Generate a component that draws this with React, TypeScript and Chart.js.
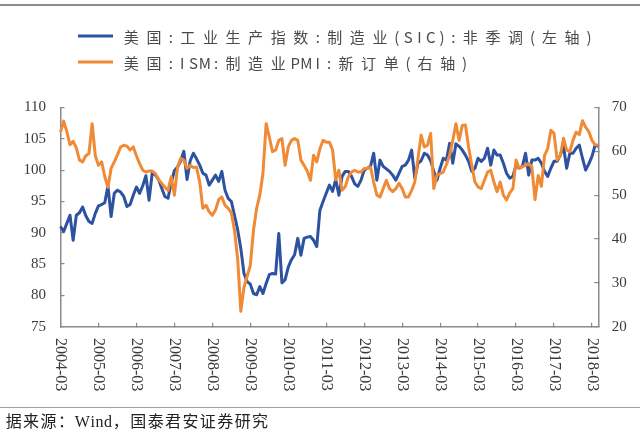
import React, { useEffect, useRef } from 'react';
import { Chart, registerables } from 'chart.js';

Chart.register(...registerables);

// Monthly categories 2004-03 .. 2018-05
const months: string[] = [];
for (let k = 0; k < 171; k++) {
  const m = 2 + k;
  const y = 2004 + Math.floor(m / 12);
  const mm = (m % 12) + 1;
  months.push(`${y}-${String(mm).padStart(2, '0')}`);
}

const tickLabels = [
  '2004-03', '2005-03', '2006-03', '2007-03', '2008-03', '2009-03', '2010-03', '2011-03',
  '2012-03', '2013-03', '2014-03', '2015-03', '2016-03', '2017-03', '2018-03',
];

const leftTicks = [75, 80, 85, 90, 95, 100, 105, 110];
const rightTicks = [20, 30, 40, 50, 60, 70];

const legendLabels = [
  '美国:工业生产指数:制造业(SIC):非季调(左轴)',
  '美国:ISM:制造业PMI:新订单(右轴)',
];
const sourceText = '据来源：Wind，国泰君安证券研究';

// 美国:工业生产指数:制造业(SIC):非季调 (left axis)
const ipValues = [
  91.0, 90.2, 91.5, 92.8, 88.8, 92.8, 93.2, 94.1, 92.7, 91.8, 91.5, 93.1,
  94.3, 94.5, 94.8, 97.5, 92.6, 96.3, 96.8, 96.5, 95.8, 94.2, 94.5, 96.0,
  97.3, 96.3, 97.5, 99.1, 95.2, 99.6, 99.2, 98.5, 97.1, 95.8, 95.5, 98.0,
  99.9, 100.5, 101.5, 103.0, 98.5, 101.5, 102.7, 101.8, 100.8, 99.5, 99.2, 97.6,
  98.4, 99.2, 98.2, 99.8, 96.8, 95.5, 95.0, 92.8, 90.5, 87.5, 83.5, 82.2,
  81.8, 80.3, 80.1, 81.4, 80.3, 81.9, 83.3, 83.5, 83.4, 89.9, 82.0, 82.5,
  84.5, 85.7, 86.5, 89.1, 86.4, 89.1, 89.3, 89.4, 88.8, 87.8, 93.6, 95.0,
  96.3, 97.6, 96.6, 98.5, 96.0, 99.0, 99.8, 99.8, 99.0, 97.8, 97.4, 98.4,
  100.0, 100.3, 100.6, 102.7, 98.4, 101.6, 100.6, 100.2, 99.8, 99.2, 98.4, 99.5,
  100.6, 100.8, 101.6, 103.2, 98.7, 101.1, 101.5, 102.7, 102.4, 101.5, 99.8, 98.4,
  100.3, 101.9, 101.6, 104.3, 101.1, 104.2, 103.8, 103.2, 102.4, 101.4, 99.8, 100.3,
  101.9, 101.4, 101.9, 103.5, 100.8, 103.2, 102.4, 102.4, 101.1, 99.5, 98.7, 99.0,
  100.8, 100.3, 100.6, 102.7, 99.2, 101.6, 101.6, 101.9, 101.1, 99.8, 99.0, 100.3,
  101.4, 101.4, 102.4, 103.8, 100.3, 102.7, 102.7, 103.5, 104.0, 101.9, 100.0, 101.0,
  102.2, 104.0, 103.8,
];

// 美国:ISM:制造业PMI:新订单 (right axis)
const ismValues = [
  64.4, 66.9, 64.5, 61.5, 62.3, 60.8, 58.0, 57.6, 59.0, 59.5, 66.3, 59.0,
  56.8, 57.6, 54.2, 51.8, 56.1, 57.6, 59.2, 61.0, 61.4, 61.2, 60.3, 61.0,
  59.0, 57.2, 55.7, 55.3, 55.5, 55.5, 54.9, 53.5, 52.7, 51.8, 51.1, 54.2,
  50.0, 56.4, 58.4, 58.0, 56.1, 56.8, 56.3, 56.4, 53.0, 47.0, 47.7, 46.2,
  45.4, 46.6, 49.0, 49.6, 47.7, 47.0, 46.0, 42.0, 35.5, 23.5, 29.0, 31.5,
  34.0, 42.0, 47.0, 50.0, 55.0, 66.3, 63.3, 59.9, 60.3, 62.5, 62.9, 56.8,
  61.0, 62.5, 62.9, 62.5, 58.0, 56.8, 55.5, 53.4, 59.1, 57.6, 60.6, 62.5,
  62.1, 62.1, 60.3, 53.5, 55.7, 51.1, 51.9, 54.2, 55.3, 55.7, 55.3, 55.3,
  56.1, 56.1, 56.4, 53.0, 50.0, 49.6, 51.5, 53.4, 51.5, 50.8, 51.5, 52.7,
  51.5, 49.6, 49.6, 51.1, 53.0, 58.4, 63.7, 61.0, 61.4, 64.1, 51.5, 54.6,
  54.9, 55.3, 57.0, 59.1, 62.5, 66.3, 62.5, 65.9, 66.0, 61.0, 56.8, 53.0,
  51.9, 51.5, 53.4, 55.3, 55.7, 53.0, 50.8, 53.0, 50.0, 48.9, 50.5, 51.5,
  58.0, 56.1, 56.5, 56.8, 57.2, 56.4, 49.0, 54.5, 52.0, 59.0, 60.6, 64.8,
  64.1, 58.0, 59.0, 63.0, 60.3, 60.0, 62.5, 64.4, 63.8, 67.0, 65.5, 64.5,
  62.5, 61.5, 61.4,
];

const BLUE = '#2D52A0';
const ORANGE = '#F08A34';
const AXIS = '#8a8a8a';
const TEXT = '#3a3a3a';

function drawCells(
  ctx: CanvasRenderingContext2D,
  text: string,
  x: number,
  y: number,
  cjkCell: number,
  asciiCell: number | null,
  asciiExtra = 0,
) {
  let cx = x;
  for (const ch of Array.from(text)) {
    const isAscii = ch.charCodeAt(0) < 128;
    const w = isAscii ? (asciiCell ?? ctx.measureText(ch).width + asciiExtra) : cjkCell;
    ctx.fillText(ch, cx + w / 2, y);
    cx += w;
  }
}

const decorPlugin = {
  id: 'decor',
  afterDraw(chart: any) {
    const ctx: CanvasRenderingContext2D = chart.ctx;
    const xs = chart.scales.x;
    ctx.save();
    // top rule
    ctx.strokeStyle = '#8c8c8c';
    ctx.lineWidth = 2;
    ctx.beginPath();
    ctx.moveTo(0, 5);
    ctx.lineTo(640, 5);
    ctx.stroke();
    // bottom rule
    ctx.strokeStyle = '#a0a0a0';
    ctx.lineWidth = 1;
    ctx.beginPath();
    ctx.moveTo(0, 407.5);
    ctx.lineTo(640, 407.5);
    ctx.stroke();

    // legend
    const colors = [BLUE, ORANGE];
    const rows = [36, 62];
    ctx.font = "15px 'Noto Sans CJK SC'";
    ctx.textAlign = 'center';
    ctx.textBaseline = 'middle';
    legendLabels.forEach((lab, k) => {
      ctx.strokeStyle = colors[k];
      ctx.lineWidth = 3;
      ctx.beginPath();
      ctx.moveTo(78, rows[k]);
      ctx.lineTo(113, rows[k]);
      ctx.stroke();
      ctx.fillStyle = '#4a4a4a';
      drawCells(ctx, lab, 120, rows[k] + 1, 22.6, 11.3);
    });

    // x tick labels, rotated clockwise
    ctx.fillStyle = TEXT;
    ctx.font = "16px 'Liberation Serif'";
    ctx.textAlign = 'left';
    ctx.textBaseline = 'middle';
    tickLabels.forEach((lab) => {
      const idx = months.indexOf(lab);
      if (idx < 0) return;
      const px = xs.getPixelForValue(idx);
      ctx.save();
      ctx.translate(px, 338);
      ctx.rotate(Math.PI / 2);
      ctx.fillText(lab, 0, 0);
      ctx.restore();
    });

    // source note
    ctx.fillStyle = '#222';
    ctx.font = "16px 'Liberation Serif', 'Noto Sans CJK SC'";
    ctx.textAlign = 'center';
    ctx.textBaseline = 'middle';
    drawCells(ctx, sourceText, 5, 423, 17.4, null, 0.5);
    ctx.restore();
  },
};

export default function App() {
  const ref = useRef<HTMLCanvasElement | null>(null);

  useEffect(() => {
    const canvas = ref.current;
    if (!canvas) return;
    const tickFont = { family: "'Liberation Serif'", size: 15 };
    const marchColor = (c: any) => {
      const lab = months[c.index];
      return lab && tickLabels.includes(lab) ? AXIS : 'rgba(0,0,0,0)';
    };
    const chart = new Chart(canvas, {
      type: 'line',
      data: {
        labels: months,
        datasets: [
          {
            label: legendLabels[0],
            data: ipValues,
            yAxisID: 'y',
            borderColor: BLUE,
            backgroundColor: BLUE,
            borderWidth: 3,
            pointRadius: 0,
            tension: 0,
            borderJoinStyle: 'round',
            order: 1,
          },
          {
            label: legendLabels[1],
            data: ismValues,
            yAxisID: 'y1',
            borderColor: ORANGE,
            backgroundColor: ORANGE,
            borderWidth: 3,
            pointRadius: 0,
            tension: 0,
            borderJoinStyle: 'round',
            order: 0,
          },
        ],
      },
      options: {
        responsive: false,
        animation: false,
        events: [],
        layout: { padding: { top: 107.5, left: 0, right: 0, bottom: 0 } },
        plugins: { legend: { display: false }, tooltip: { enabled: false } },
        scales: {
          x: {
            type: 'category',
            offset: false,
            ticks: { display: false, autoSkip: false },
            grid: {
              display: true,
              drawOnChartArea: false,
              drawTicks: true,
              tickLength: -4,
              color: marchColor,
              tickColor: marchColor,
              lineWidth: 1.2,
              tickWidth: 1.2,
            },
            border: { display: true, color: AXIS, width: 1.5 },
            afterFit: (s: any) => {
              s.height = 109.3;
            },
          },
          y: {
            position: 'left',
            min: 75,
            max: 110,
            afterBuildTicks: (s: any) => {
              s.ticks = leftTicks.map((v) => ({ value: v }));
            },
            ticks: { padding: 18.5, color: TEXT, font: tickFont },
            grid: {
              drawOnChartArea: false,
              drawTicks: true,
              tickLength: -4,
              color: AXIS,
              lineWidth: 1.2,
            },
            border: { display: true, color: AXIS, width: 1.5 },
            afterFit: (s: any) => {
              s.width = 60.5;
            },
          },
          y1: {
            position: 'right',
            min: 20,
            max: 70,
            afterBuildTicks: (s: any) => {
              s.ticks = rightTicks.map((v) => ({ value: v }));
            },
            ticks: { padding: 17.4, color: TEXT, font: tickFont },
            grid: {
              drawOnChartArea: false,
              drawTicks: true,
              tickLength: -4,
              color: AXIS,
              lineWidth: 1.2,
            },
            border: { display: true, color: AXIS, width: 1.5 },
            afterFit: (s: any) => {
              s.width = 41.7;
            },
          },
        },
      } as any,
      plugins: [decorPlugin],
    });
    return () => chart.destroy();
  }, []);

  return (
    <div style={{ position: 'fixed', left: 0, top: 0, width: 640, height: 436, background: '#fff' }}>
      <canvas ref={ref} width={640} height={436} style={{ display: 'block', width: 640, height: 436 }} />
    </div>
  );
}
